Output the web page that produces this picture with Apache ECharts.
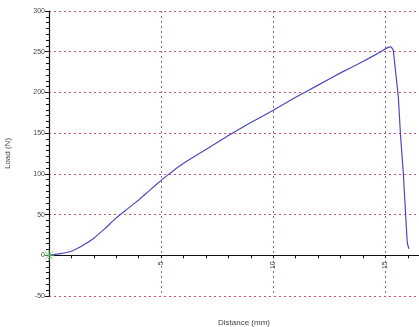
<!DOCTYPE html>
<html>
<head>
<meta charset="utf-8">
<script src="https://cdn.jsdelivr.net/npm/echarts@6/dist/echarts.min.js"></script>
<style>
html,body{margin:0;padding:0;background:#fff;}
#c{width:419px;height:327px;}
</style>
</head>
<body>
<div id="c"></div>
<script>
// Distance (mm)
const distance = [0, 0.5, 1.0, 1.5, 2.0, 2.5, 3.0, 3.5, 4.0, 4.5, 5.0, 5.5, 6.0, 7.0, 8.0, 9.0, 10.0, 11.0, 12.0, 13.0, 14.0, 14.8, 15.1, 15.25, 15.35, 15.45, 15.58, 15.67, 15.8, 15.9, 15.98, 16.05];
// Load (N)
const load = [0, 2, 5, 12, 21, 33, 46, 57, 68, 80, 92, 103, 113, 130, 147, 163, 178, 194, 209, 224, 238, 250, 255, 256, 252, 227, 194, 150, 101, 52, 15, 8];
const startPoint = [[0, 0]];
const yTicks = [-50, 0, 50, 100, 150, 200, 250, 300];
const xTicks = [5, 10, 15];
const xMin = 0, xMax = 16.5, yMin = -50, yMax = 300;

const chart = echarts.init(document.getElementById('c'), null, {renderer: 'canvas'});
const lineData = distance.map((d, i) => [d, load[i]]);
const font = 'Liberation Sans, Arial, sans-serif';

// the zero line of the full plot sits at this many px from the bottom
const plotTop = 11, plotBottom = 31, H = 327;
const zeroFromBottom = plotBottom + (0 - yMin) / (yMax - yMin) * (H - plotTop - plotBottom);

chart.setOption({
  animation: false,
  backgroundColor: '#ffffff',
  grid: [
    {left: 49, top: plotTop, right: 0, bottom: plotBottom, containLabel: false, outerBoundsMode: 'none'},
    {left: 49, top: plotTop, right: 0, bottom: zeroFromBottom, containLabel: false, outerBoundsMode: 'none'}
  ],
  xAxis: [
    {
      gridIndex: 0, type: 'value', min: xMin, max: xMax, interval: 5,
      axisLine: {show: false}, axisTick: {show: false}, axisLabel: {show: false},
      splitLine: {show: true, lineStyle: {color: '#8a6a90', type: [2, 3], width: 1}}
    },
    {
      gridIndex: 1, type: 'value', min: xMin, max: xMax, interval: 5,
      name: 'Distance (mm)', nameLocation: 'middle', nameGap: 64,
      nameTextStyle: {fontFamily: font, fontSize: 8, color: '#444', padding: [0, 0, 0, 20]},
      axisLine: {onZero: false, lineStyle: {color: '#111', width: 1.2}},
      axisTick: {show: true, length: 3, lineStyle: {color: '#111'}},
      minorTick: {show: true, splitNumber: 5, length: 3, lineStyle: {color: '#111'}},
      axisLabel: {
        rotate: 90, fontFamily: font, fontSize: 7, color: '#444', margin: 6,
        showMaxLabel: false,
        formatter: v => (xTicks.indexOf(v) >= 0 ? String(v) : '')
      },
      splitLine: {show: false}
    }
  ],
  yAxis: [
    {
      gridIndex: 0, type: 'value', min: yMin, max: yMax, interval: 50,
      name: 'Load (N)', nameLocation: 'middle', nameGap: 37,
      nameTextStyle: {fontFamily: font, fontSize: 8, color: '#444'},
      axisLine: {onZero: false, lineStyle: {color: '#111', width: 1.2}},
      axisTick: {show: true, length: 4, lineStyle: {color: '#111'}},
      minorTick: {show: true, splitNumber: 7, length: 3, lineStyle: {color: '#111'}},
      axisLabel: {
        fontFamily: font, fontSize: 7, color: '#444', margin: 4,
        formatter: v => (yTicks.indexOf(v) >= 0 ? String(v) : '')
      },
      splitLine: {show: true, lineStyle: {color: '#c8507a', type: [2, 3], width: 1}}
    },
    {
      gridIndex: 1, type: 'value', min: 0, max: yMax, show: false
    }
  ],
  series: [
    {
      type: 'line', xAxisIndex: 0, yAxisIndex: 0, data: lineData, showSymbol: false, smooth: 0.1,
      lineStyle: {color: '#4a4ac0', width: 1.2}, z: 3
    },
    {
      type: 'scatter', xAxisIndex: 0, yAxisIndex: 0, data: startPoint,
      symbol: 'path://M0,5 L10,5 M5,0 L5,10 M1.5,1.5 L8.5,8.5 M8.5,1.5 L1.5,8.5',
      symbolSize: 11,
      itemStyle: {color: 'none', borderColor: '#66c060', borderWidth: 1},
      z: 4
    }
  ]
});
</script>
</body>
</html>
